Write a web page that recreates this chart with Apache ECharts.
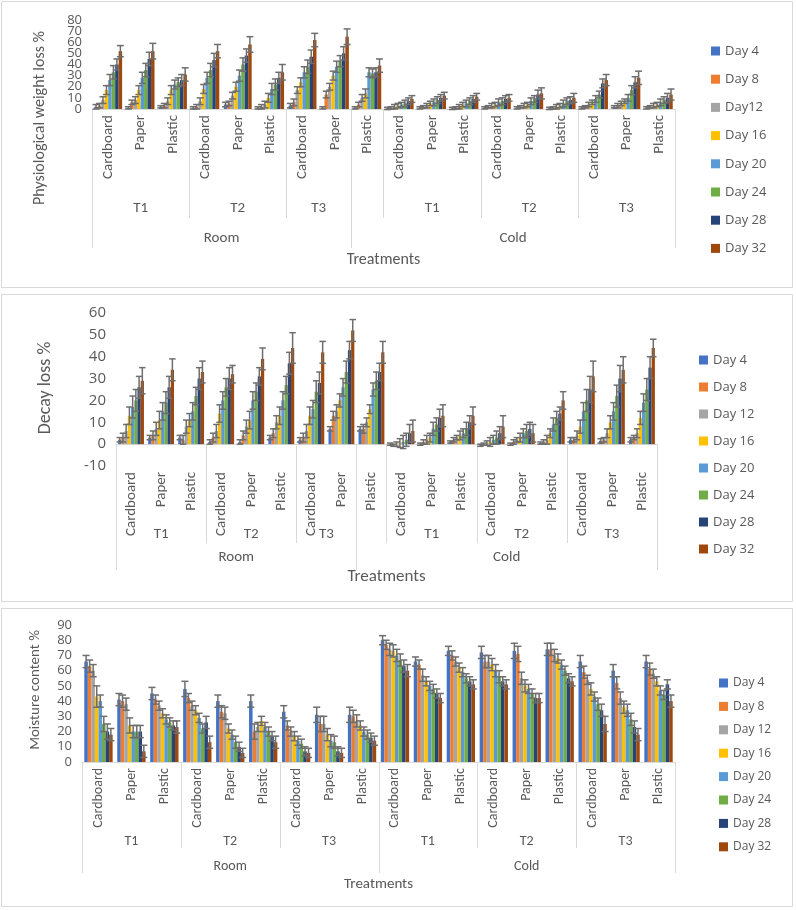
<!DOCTYPE html>
<html><head><meta charset="utf-8">
<script src="https://cdn.jsdelivr.net/npm/echarts@6/dist/echarts.min.js"></script>
<style>html,body{margin:0;padding:0;background:#fff}#c{width:796px;height:910px}</style>
</head><body><div id="c"></div>
<script>
// ---------------- DATA ----------------
const dayNamesPWL = ['Day 4','Day 8','Day12','Day 16','Day 20','Day 24','Day 28','Day 32'];
const dayNames = ['Day 4','Day 8','Day 12','Day 16','Day 20','Day 24','Day 28','Day 32'];
const packaging = ['Cardboard','Paper','Plastic','Cardboard','Paper','Plastic','Cardboard','Paper','Plastic',
                   'Cardboard','Paper','Plastic','Cardboard','Paper','Plastic','Cardboard','Paper','Plastic'];
// panels 1 and 2 grouping (as drawn)
const tierLabelsA = ['T1','T2','T3','','T1','T2','T3'];
const tierSpansA  = [3,3,2,1,3,3,3];
const siteLabels  = ['Room','Cold'];
const siteSpansA  = [8,10];
// panel 3 grouping
const tierLabelsB = ['T1','T2','T3','T1','T2','T3'];
const tierSpansB  = [3,3,3,3,3,3];
const siteSpansB  = [9,9];
// y tick labels
const pwlTicks   = [0,10,20,30,40,50,60,70,80];
const decayTicks = [-10,0,10,20,30,40,50,60];
const moistTicks = [0,10,20,30,40,50,60,70,80,90];

// Physiological weight loss % (rows = categories, columns = Day4..Day32)
const pwlMeans = [
 [2,3,8,17,26,33,40,52],[1,6,8,17,28,35,45,52],[2,3,7,17,22,24,26,31],
 [1,2,7,18,28,35,44,52],[4,5,12,20,30,40,48,58],[1,2,4,10,18,22,28,33],
 [3,6,17,24,33,38,47,62],[1,13,20,30,38,43,50,65],
 [1,4,10,14,33,32,33,39],
 [0.5,1,2,3,4,5,7,9],[1,2,3,5,6,8,10,12],[0.5,1,2,4,5,7,9,11],
 [1,2,3,4,6,7,9,10],[1,2,3,4,7,9,13,14],[0.5,1,2,3,5,7,8,10],
 [1,2,4,6,9,13,23,26],[2,3,5,7,10,17,24,28],[1,2,3,4,6,8,10,13]
];
const pwlErrors = [
 [2,2,3,4,5,6,5,5],[1,2,3,4,5,6,6,7],[1,2,3,4,4,4,5,6],
 [1,2,3,4,5,6,6,6],[2,2,3,4,5,6,6,7],[1,2,3,4,5,5,5,7],
 [2,3,3,4,5,6,6,6],[1,3,3,4,5,5,6,7],
 [1,2,3,4,4,4,4,6],
 [1,1,2,2,2,3,3,3],[1,1,2,2,3,3,3,3],[1,1,2,2,3,3,3,3],
 [1,1,2,2,3,3,3,3],[1,1,2,2,3,3,4,5],[1,1,2,2,3,3,3,4],
 [1,1,2,2,3,3,4,5],[1,2,2,2,3,4,5,6],[1,1,2,2,3,3,4,5]
];
// Decay loss %
const decayMeans = [
 [2,3,6,13,17,20,26,29],[3,4,7,11,15,19,26,34],[3,2,8,11,15,22,30,33],
 [1,3,6,14,20,26,30,32],[1,4,8,11,20,24,31,39],[3,5,10,13,20,27,37,44],
 [2,3,6,13,16,24,28,42],[7,13,15,20,26,33,43,52],
 [7,7,10,16,25,29,33,42],
 [0,-0.5,0,0.5,1,2,5,6],[0,1,2,3,7,9,12,13],[1,2,3,4,5,7,10,13],
 [-0.5,0,0.5,1,2,3,5,8],[0,1,2,3,5,6,7,5],[0.5,1,2,5,9,12,14,20],
 [2,2,4,8,15,20,25,31],[1.5,2,5,10,15,22,30,34],[2,3,5,12,19,25,35,44]
];
const decayErrors = [
 [1,2,3,4,5,5,5,6],[1,2,3,4,4,5,5,5],[1,2,3,3,4,4,5,5],
 [1,2,3,4,4,4,5,4],[1,2,3,4,4,4,4,5],[1,2,3,4,4,4,5,7],
 [1,2,3,4,4,5,5,5],[1,2,3,3,4,5,4,5],
 [1,2,2,2,3,4,4,5],
 [0.5,0.5,1,2,3,3,4,5],[0.5,1,2,2,3,3,4,5],[0.5,1,1,2,2,3,3,4],
 [0.5,0.5,1,2,2,3,3,5],[0.5,1,1,2,2,3,3,4],[0.5,1,2,2,3,3,3,4],
 [1,1,2,3,4,5,6,7],[1,1,2,3,4,5,6,6],[1,1,2,3,4,5,5,4]
];
// Moisture content %
const moistMeans = [
 [66,63,60,43,40,25,20,18],[41,40,38,24,20,20,20,7],[45,41,37,32,28,26,24,23],
 [48,42,37,34,29,22,26,13],[40,33,32,22,18,13,10,6],[40,20,23,27,23,20,17,13],
 [33,24,20,17,14,12,7,6],[31,25,25,18,14,13,7,6],[31,30,27,24,20,18,16,14],
 [80,77,74,73,70,67,63,60],[66,64,57,53,50,48,45,42],[73,70,66,62,59,55,53,51],
 [72,66,66,64,60,56,53,51],[73,71,55,50,48,45,42,42],[74,74,70,68,64,60,55,53],
 [66,59,54,48,43,38,34,25],[60,52,42,36,34,28,23,18],[66,61,58,53,47,44,51,40]
];
const moistErrors = [
 [4,4,4,7,4,5,5,4],[4,4,4,5,4,4,4,4],[4,3,3,3,3,3,3,4],
 [5,3,3,3,3,3,4,4],[4,4,4,3,3,4,3,3],[4,5,3,3,3,3,3,4],
 [4,3,3,3,3,3,3,3],[5,5,5,4,4,4,3,3],[5,4,4,3,3,3,3,3],
 [3,3,4,4,4,4,4,4],[3,3,4,3,3,3,3,3],[3,3,3,3,3,3,3,3],
 [4,4,4,4,4,4,3,3],[5,5,4,4,3,3,3,3],[4,4,4,3,3,3,3,3],
 [4,4,3,4,3,4,4,5],[4,4,4,4,4,4,4,4],[4,4,3,3,3,3,3,4]
];

// ---------------- STYLE / LAYOUT ----------------
const colors = ['#4472C4','#ED7D31','#A5A5A5','#FFC000','#5B9BD5','#70AD47','#264478','#9E480E'];
const TXT = '#595959';
const FONT = 'Carlito, "Liberation Sans Narrow", "Liberation Sans", Arial, sans-serif';
const LFONT = '"Open Sans", "Noto Sans", sans-serif';
const GAP = 0.14;

const panels = [
 {means:pwlMeans, errs:pwlErrors, ticks:pwlTicks, names:dayNamesPWL, tiers:tierLabelsA, tierSpans:tierSpansA, siteSpans:siteSpansA,
  frame:[1,1,791,286], grid:{left:92, top:20, width:583, height:89}, min:0, max:80,
  yFont:13, catFont:15, yTitle:'Physiological weight loss %', yTitleX:40, yTitleY:118, yTitleFont:16,
  tierY:208, siteY:238, titleY:260, tierLineEnd:218, siteLineEnd:248, titleFont:16, groupFont:15,
  legend:{left:706, top:38, gap:12.2, font:13}},
 {means:decayMeans, errs:decayErrors, ticks:decayTicks, names:dayNames, tiers:tierLabelsA, tierSpans:tierSpansA, siteSpans:siteSpansA,
  frame:[1,294,791,307], grid:{left:116, top:313, width:541, height:153}, min:-10, max:60,
  yFont:15, catFont:15, yTitle:'Decay loss %', yTitleX:45, yTitleY:388, yTitleFont:18,
  tierY:534, siteY:557, titleY:577, tierLineEnd:543, siteLineEnd:570, titleFont:17, groupFont:15,
  legend:{left:694, top:347, gap:11, font:13}},
 {means:moistMeans, errs:moistErrors, ticks:moistTicks, names:dayNames, tiers:tierLabelsB, tierSpans:tierSpansB, siteSpans:siteSpansB,
  frame:[1,608,791,298], grid:{left:82, top:625, width:593, height:137}, min:0, max:90,
  yFont:13, catFont:14, yTitle:'Moisture content %', yTitleX:35, yTitleY:690, yTitleFont:15,
  tierY:841, siteY:866, titleY:884, tierLineEnd:848, siteLineEnd:873, titleFont:15, groupFont:14,
  legend:{left:714, top:670, gap:7.4, font:12}}
];

const chart = echarts.init(document.getElementById('c'), null, {renderer:'canvas'});
const option = {animation:false, grid:[], xAxis:[], yAxis:[], series:[], legend:[]};

panels.forEach((p, pi) => {
  option.grid.push(Object.assign({containLabel:false}, p.grid));
  option.xAxis.push({type:'category', gridIndex:pi, data:packaging,
    axisTick:{show:false}, axisLine:{onZero:true, lineStyle:{color:'#d9d9d9', width:1}},
    axisLabel:{rotate:90, interval:0, fontSize:p.catFont, color:TXT, fontFamily:FONT, margin:6}});
  option.yAxis.push({type:'value', gridIndex:pi, min:p.min, max:p.max, interval:10,
    splitLine:{show:false}, axisLine:{show:false}, axisTick:{show:false}, axisLabel:{show:false}});
  for (let d = 0; d < 8; d++) {
    option.series.push({type:'bar', name:p.names[d], xAxisIndex:pi, yAxisIndex:pi,
      barGap:'0%', barCategoryGap:(GAP*100)+'%', itemStyle:{color:colors[d]},
      data:p.means.map(r => r[d])});
  }
  for (let d = 0; d < 8; d++) {
    option.series.push({type:'custom', name:'err'+pi+'_'+d, xAxisIndex:pi, yAxisIndex:pi, z:5,
      encode:{x:0, y:[1,2]},
      data:p.means.map((r, ci) => [ci, r[d] - p.errs[ci][d], r[d] + p.errs[ci][d]]),
      renderItem:(params, api) => {
        const band = api.size([1,0])[0];
        const bw = band * (1 - GAP) / 8;
        const ci = api.value(0);
        const lo = api.coord([ci, api.value(1)]);
        const hi = api.coord([ci, api.value(2)]);
        const x = lo[0] + (d - 3.5) * bw;
        const cap = Math.max(3, bw * 1.0);
        const st = {stroke:'#6e6e6e', lineWidth:1.5};
        return {type:'group', children:[
          {type:'line', shape:{x1:x, y1:lo[1], x2:x, y2:hi[1]}, style:st},
          {type:'line', shape:{x1:x-cap, y1:hi[1], x2:x+cap, y2:hi[1]}, style:st},
          {type:'line', shape:{x1:x-cap, y1:lo[1], x2:x+cap, y2:lo[1]}, style:st}
        ]};
      }});
  }
  option.legend.push({orient:'vertical', left:p.legend.left, top:p.legend.top, itemGap:p.legend.gap,
    icon:'rect', itemWidth:9, itemHeight:9, selectedMode:false, data:p.names,
    textStyle:{fontSize:p.legend.font, color:TXT, fontFamily:LFONT, lineHeight:16}});
});
chart.setOption(option);

// ---------------- y tick labels, multi-level axis labels, frames, titles ----------------
const graphics = [];
panels.forEach((p, pi) => {
  const f = p.frame;
  graphics.push({type:'rect', shape:{x:f[0]+0.5, y:f[1]+0.5, width:f[2], height:f[3]},
    style:{fill:null, stroke:'#d9d9d9', lineWidth:1}, silent:true, z:-1});
  p.ticks.forEach(t => graphics.push({type:'text', x:p.grid.left - 10,
    y:chart.convertToPixel({yAxisIndex:pi}, t),
    style:{text:String(t), fill:TXT, font:p.yFont+'px '+LFONT, align:'right', verticalAlign:'middle'}, silent:true}));
  const x0 = chart.convertToPixel({xAxisIndex:pi}, 0);
  const x1 = chart.convertToPixel({xAxisIndex:pi}, 1);
  const band = x1 - x0;
  const edge = k => x0 - band/2 + k*band;
  const axisY = chart.convertToPixel({yAxisIndex:pi}, Math.max(0, p.min));
  const siteBounds = [0];
  p.siteSpans.reduce((a, s) => { siteBounds.push(a + s); return a + s; }, 0);
  let acc = 0;
  p.tiers.forEach((t, i) => {
    const s = acc, e = acc + p.tierSpans[i];
    if (t) graphics.push({type:'text', x:(edge(s)+edge(e))/2, y:p.tierY,
      style:{text:t, fill:TXT, font:p.groupFont+'px '+FONT, align:'center', verticalAlign:'middle'}, silent:true});
    if (!siteBounds.includes(e)) graphics.push({type:'line',
      shape:{x1:Math.round(edge(e))+0.5, y1:axisY, x2:Math.round(edge(e))+0.5, y2:p.tierLineEnd},
      style:{stroke:'#d9d9d9', lineWidth:1}, silent:true});
    acc = e;
  });
  siteBounds.forEach(b => graphics.push({type:'line',
    shape:{x1:Math.round(edge(b))+0.5, y1:axisY, x2:Math.round(edge(b))+0.5, y2:p.siteLineEnd},
    style:{stroke:'#d9d9d9', lineWidth:1}, silent:true}));
  siteLabels.forEach((s, i) => graphics.push({type:'text',
    x:(edge(siteBounds[i]) + edge(siteBounds[i+1]))/2, y:p.siteY,
    style:{text:s, fill:TXT, font:p.groupFont+'px '+FONT, align:'center', verticalAlign:'middle'}, silent:true}));
  graphics.push({type:'text', x:(edge(0)+edge(18))/2, y:p.titleY,
    style:{text:'Treatments', fill:TXT, font:p.titleFont+'px '+FONT, align:'center', verticalAlign:'middle'}, silent:true});
  graphics.push({type:'text', x:p.yTitleX, y:p.yTitleY, rotation:Math.PI/2,
    style:{text:p.yTitle, fill:TXT, font:p.yTitleFont+'px '+FONT, align:'center', verticalAlign:'middle'}, silent:true});
});
chart.setOption({graphic:{elements:graphics}});
</script></body></html>
